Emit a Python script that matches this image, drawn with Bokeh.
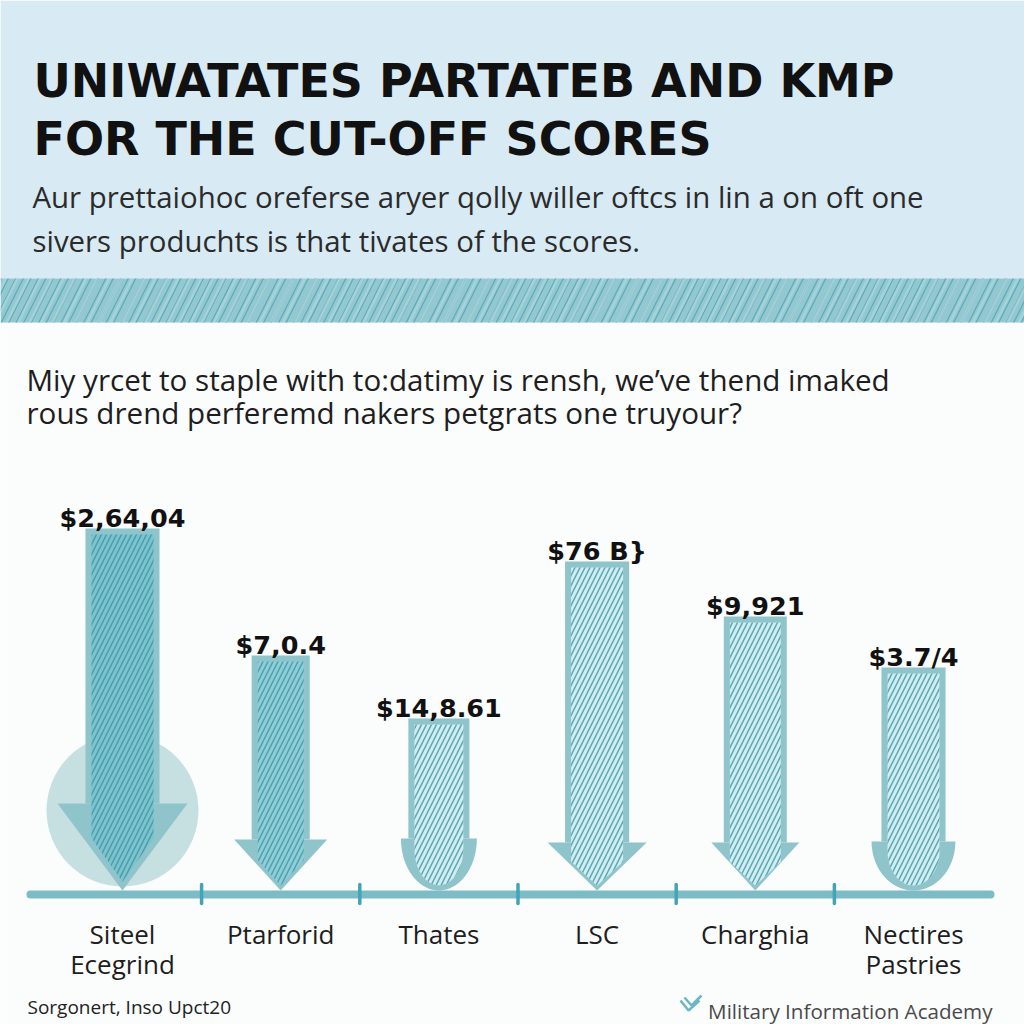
import numpy as np
from bokeh.plotting import figure
from bokeh.models import Range1d
from bokeh.core.properties import value
from bokeh.embed import file_html
from bokeh.resources import INLINE

# ---------------- data ----------------
categories = ["Siteel\nEcegrind", "Ptarforid", "Thates", "LSC", "Charghia", "Nectires\nPastries"]
scores = [3.62, 2.35, 1.72, 3.29, 2.74, 2.23]
score_labels = ["$2,64,04", "$7,0.4", "$14,8.61", "$76 B}", "$9,921", "$3.7/4"]

title_lines = ["UNIWATATES PARTATEB AND KMP", "FOR THE CUT-OFF SCORES"]
subtitle_lines = ["Aur prettaiohoc oreferse aryer qolly willer oftcs in lin a on oft one",
                  "sivers produchts is that tivates of the scores."]
question_lines = ["Miy yrcet to staple with to:datimy is rensh, we\u2019ve thend imaked",
                  "rous drend perferemd nakers petgrats one truyour?"]
source_text = "Sorgonert, Inso Upct20"
brand_text = "Military Information Academy"

# ---------------- styles ----------------
shaft_w = [0.468, 0.367, 0.386, 0.405, 0.398, 0.405]
head_hw = [0.411, 0.294, 0.240, 0.313, 0.278, 0.265]
head_h = [0.87, 0.51, 0.52, 0.48, 0.48, 0.49]
head_shape = ["arrow", "arrow", "round", "arrow", "arrow", "round"]
inner_fill = ["#7fc2cc", "#92ccd5", "#d3ecef", "#d3ecef", "#d3ecef", "#d3ecef"]
hatch_col = ["#43a0b0", "#47a3b3", "#56a9b7", "#56a9b7", "#56a9b7", "#56a9b7"]
frame_col = "#8fc4cb"

# pixel helpers for decorative layout
X0, XU, Y0, YU = 122.0, 158.2, 890.0, 100.0
def dx(px): return (px - X0) / XU
def dy(py): return (Y0 - py) / YU

p = figure(width=1024, height=1024, output_backend="svg", toolbar_location=None,
           x_range=Range1d(dx(0), dx(1024)), y_range=Range1d(dy(1024), dy(0)),
           x_axis_type=None, y_axis_type=None, min_border=0,
           background_fill_color="#fbfcfc", border_fill_color="#fbfcfc",
           outline_line_color=None)

# header
p.quad(left=[dx(0)], right=[dx(1024)], bottom=[dy(278)], top=[dy(0)],
       fill_color="#d8eaf3", line_color=None)
p.quad(left=[dx(0)], right=[dx(1024)], bottom=[dy(322)], top=[dy(278)],
       fill_color="#94c8d1", line_color=None,
       hatch_pattern="/", hatch_color="#5eacb9", hatch_scale=15, hatch_weight=1.3)
p.quad(left=[dx(0)], right=[dx(1024)], bottom=[dy(322)], top=[dy(278)],
       fill_alpha=0, line_color=None,
       hatch_pattern="/", hatch_color="#b2d9df", hatch_scale=23, hatch_weight=2.5, hatch_alpha=0.6)

p.text(x=[dx(33)] * 2, y=[dy(80), dy(138)], text=title_lines,
       text_font=value("DejaVu Sans"), text_font_style="bold", text_font_size="46px",
       text_color="#111111", text_baseline="alphabetic", text_align="left")
p.text(x=[dx(32)] * 2, y=[dy(196), dy(240)], text=subtitle_lines,
       text_font=value("Open Sans"), text_font_size="29.4px",
       text_color="#2b2b2b", text_baseline="alphabetic", text_align="left")
p.text(x=[dx(26)] * 2, y=[dy(379), dy(412)], text=question_lines,
       text_font=value("Open Sans"), text_font_size="29.6px",
       text_color="#1e1e1e", text_baseline="alphabetic", text_align="left")

# bars
n = len(categories)
idx = list(range(n))

# emphasis circle behind first bar
p.scatter(x=[idx[0]], y=[dy(810)], size=152, marker="circle",
          fill_color="#c6e0e2", line_color=None)

# shafts
p.vbar(x=idx, top=scores, bottom=head_h, width=shaft_w,
       fill_color=frame_col, line_color=None)

# heads
head_xs, head_ys = [], []
for i in idx:
    hw, hh = head_hw[i], head_h[i]
    if head_shape[i] == "arrow":
        head_xs.append([i - hw, i + hw, i])
        head_ys.append([hh, hh, 0.0])
    else:
        t = np.linspace(0, np.pi, 40)
        head_xs.append(list(i + hw * np.cos(t)))
        head_ys.append(list(hh - hh * np.sin(t)))
p.patches(xs=head_xs, ys=head_ys, fill_color=frame_col, line_color=None)

# inner hatched panels
in_xs, in_ys = [], []
for i in idx:
    wi = shaft_w[i] / 2 - 0.038
    top = scores[i] - 0.06
    hh = head_h[i]
    if head_shape[i] == "arrow":
        in_xs.append([i - wi, i + wi, i + wi, i, i - wi])
        in_ys.append([top, top, hh * 0.6, hh * 0.1, hh * 0.6])
    else:
        t = np.linspace(0, np.pi, 30)
        xs = [i - wi, i + wi] + list(i + wi * np.cos(t))
        ys = [top, top] + list(hh * 0.8 - hh * 0.7 * np.sin(t))
        in_xs.append(xs)
        in_ys.append(ys)
p.patches(xs=in_xs, ys=in_ys, fill_color=inner_fill, line_color=None,
          hatch_pattern="/", hatch_color=hatch_col, hatch_scale=10, hatch_weight=1.5)

# value labels
p.text(x=idx, y=[s + 0.11 for s in scores], text=score_labels,
       text_font=value("DejaVu Sans"), text_font_style="bold", text_font_size="25.5px",
       text_color="#111111", text_baseline="alphabetic", text_align="center")

# baseline + separators
p.segment(x0=[dx(30)], y0=[dy(894)], x1=[dx(990)], y1=[dy(894)],
          line_color="#7dbcc6", line_width=8, line_cap="round")
mids = [i + 0.5 for i in idx[:-1]]
p.segment(x0=mids, y0=[dy(884)] * len(mids), x1=mids, y1=[dy(903)] * len(mids),
          line_color="#42a5b5", line_width=3.5, line_cap="round")

# category labels
first = [c.split("\n")[0] for c in categories]
second_x = [i for i, c in zip(idx, categories) if "\n" in c]
second = [c.split("\n")[1] for c in categories if "\n" in c]
p.text(x=idx, y=[dy(933)] * n, text=first,
       text_font=value("Open Sans"), text_font_size="26px",
       text_color="#1e1e1e", text_baseline="alphabetic", text_align="center")
p.text(x=second_x, y=[dy(963)] * len(second), text=second,
       text_font=value("Open Sans"), text_font_size="26px",
       text_color="#1e1e1e", text_baseline="alphabetic", text_align="center")

# footer
p.text(x=[dx(27)], y=[dy(1006)], text=[source_text],
       text_font=value("Open Sans"), text_font_size="19px",
       text_color="#222222", text_baseline="alphabetic", text_align="left")
p.text(x=[dx(992)], y=[dy(1010)], text=[brand_text],
       text_font=value("Open Sans"), text_font_size="20.6px",
       text_color="#4a4a4a", text_baseline="alphabetic", text_align="right")
p.multi_line(xs=[[dx(680), dx(688), dx(699)], [dx(684), dx(691), dx(701)]],
             ys=[[dy(1000), dy(1010), dy(1000)], [dy(997), dy(1005), dy(995)]],
             line_color="#6db7c3", line_width=2.5)

open("out.html", "w").write(file_html(p, INLINE))
